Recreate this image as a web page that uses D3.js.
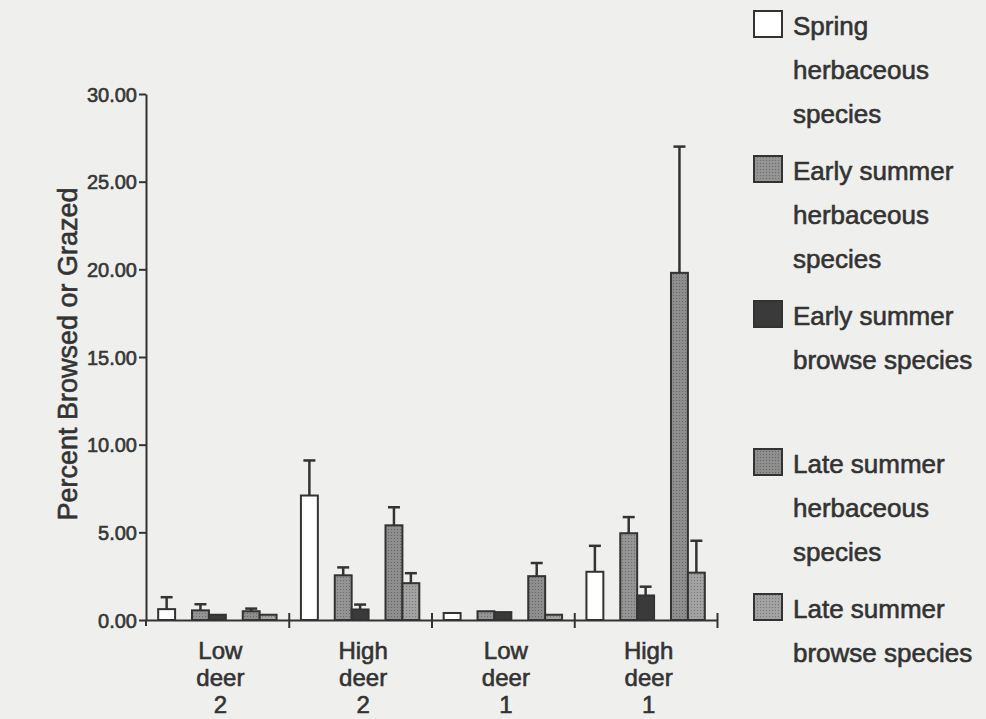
<!DOCTYPE html>
<html>
<head>
<meta charset="utf-8">
<script src="https://cdn.jsdelivr.net/npm/d3@7"></script>
<style>
  body { margin: 0; background: #efefed; }
  svg { display: block; font-family: "Liberation Sans", Arial, sans-serif; }
  text { fill: #333; stroke: #333; stroke-width: 0.6px; }
</style>
</head>
<body>
<svg width="986" height="719"></svg>
<script>
// groups along the x axis
var groups = ["Low deer 2", "High deer 2", "Low deer 1", "High deer 1"];

// series (one bar per group each)
var seriesKeys = ["springHerb", "earlyHerb", "earlyBrowse", "lateHerb", "lateBrowse"];
var legendLines = [
  ["Spring", "herbaceous", "species"],
  ["Early summer", "herbaceous", "species"],
  ["Early summer", "browse species"],
  ["Late summer", "herbaceous", "species"],
  ["Late summer", "browse species"]
];

// means
var springHerb  = [0.62, 7.10, 0.40, 2.75];
var earlyHerb   = [0.55, 2.55, 0.50, 4.95];
var earlyBrowse = [0.30, 0.60, 0.45, 1.40];
var lateHerb    = [0.50, 5.40, 2.50, 19.80];
var lateBrowse  = [0.30, 2.10, 0.30, 2.70];

// upper error bars
var springHerbErr  = [0.68, 2.00, 0, 1.48];
var earlyHerbErr   = [0.35, 0.45, 0, 0.92];
var earlyBrowseErr = [0, 0.28, 0, 0.50];
var lateHerbErr    = [0.15, 1.03, 0.75, 7.20];
var lateBrowseErr  = [0, 0.57, 0, 1.82];

var yTicks = [0, 5, 10, 15, 20, 25, 30];

var means = [springHerb, earlyHerb, earlyBrowse, lateHerb, lateBrowse];
var errs = [springHerbErr, earlyHerbErr, earlyBrowseErr, lateHerbErr, lateBrowseErr];

var svg = d3.select("svg");

// fills: white, stippled greys, dark
var defs = svg.append("defs");
function stipple(id, base, dot) {
  var p = defs.append("pattern").attr("id", id)
    .attr("patternUnits", "userSpaceOnUse").attr("width", 3).attr("height", 3);
  p.append("rect").attr("width", 3).attr("height", 3).attr("fill", base);
  p.append("rect").attr("x", 1).attr("y", 1).attr("width", 1).attr("height", 1).attr("fill", dot);
}
stipple("st1", "#949494", "#6c6c6c");
stipple("st2", "#8e8e8e", "#666");
stipple("st3", "#a2a2a2", "#777");

var fills = {
  springHerb: "#ffffff",
  earlyHerb: "url(#st1)",
  earlyBrowse: "#3a3a3a",
  lateHerb: "url(#st2)",
  lateBrowse: "url(#st3)"
};

var x0 = d3.scaleBand().domain(groups).range([146, 717]);
var edge = d3.scaleLinear().domain([0, groups.length]).range([146, 717]);
// slot layout inside a group: spring, gap, early pair, gap, late pair
var slots = ["springHerb", "g1", "earlyHerb", "earlyBrowse", "g2", "lateHerb", "lateBrowse"];
var x1 = d3.scaleBand().domain(slots).range([0, x0.bandwidth()]).paddingOuter(0.72);

var y = d3.scaleLinear().domain([0, 30]).range([620, 94]);

// y axis
var yAxis = svg.append("g")
  .attr("transform", "translate(146,0)")
  .call(d3.axisLeft(y).tickValues(yTicks).tickFormat(d3.format(".2f")).tickSize(7).tickSizeOuter(0));
yAxis.select(".domain").attr("stroke", "#333").attr("stroke-width", 2);
yAxis.selectAll(".tick line").attr("stroke", "#333").attr("stroke-width", 2);
yAxis.selectAll(".tick text").attr("x", -9).attr("dy", "0.36em")
  .style("font-size", "20px").style("fill", "#3a3a3a");
yAxis.append("line").attr("x1", 0).attr("x2", 0).attr("y1", y(0)).attr("y2", y(0) + 6)
  .attr("stroke", "#333").attr("stroke-width", 2);

// x axis with crossing ticks at group edges
var xAxis = svg.append("g")
  .attr("transform", "translate(0," + y(0) + ")")
  .call(d3.axisBottom(edge).tickValues(d3.range(1, groups.length + 1)).tickFormat("").tickSize(8).tickSizeOuter(0));
xAxis.select(".domain").attr("stroke", "#333").attr("stroke-width", 2);
xAxis.selectAll(".tick line").attr("y1", -7).attr("stroke", "#333").attr("stroke-width", 2);

// group labels
svg.append("g").selectAll("text")
  .data(groups)
  .enter().append("text")
  .attr("text-anchor", "middle")
  .style("font-size", "24px")
  .each(function(d) {
    var t = d3.select(this);
    d.split(" ").forEach(function(w, i) {
      t.append("tspan")
        .attr("x", x0(d) + x0.bandwidth() / 2 + 3)
        .attr("y", 659 + i * 27)
        .text(w);
    });
  });

// y label
svg.append("text")
  .attr("transform", "translate(77,354) rotate(-90)")
  .attr("text-anchor", "middle")
  .style("font-size", "27px")
  .text("Percent Browsed or Grazed");

// bars
var barData = [];
seriesKeys.forEach(function(k, si) {
  groups.forEach(function(g, gi) {
    barData.push({ key: k, group: g, value: means[si][gi], err: errs[si][gi] });
  });
});

var bars = svg.append("g");
bars.selectAll("rect")
  .data(barData)
  .enter().append("rect")
  .attr("x", function(d) { return x0(d.group) + x1(d.key); })
  .attr("y", function(d) { return y(d.value); })
  .attr("width", x1.bandwidth())
  .attr("height", function(d) { return y(0) - y(d.value); })
  .attr("fill", function(d) { return fills[d.key]; })
  .attr("stroke", "#333")
  .attr("stroke-width", 2);

// upper error bars
var eb = svg.append("g").attr("stroke", "#333").attr("stroke-width", 2.5);
barData.filter(function(d) { return d.err > 0; }).forEach(function(d) {
  var cx = x0(d.group) + x1(d.key) + x1.bandwidth() / 2;
  eb.append("line").attr("x1", cx).attr("x2", cx)
    .attr("y1", y(d.value)).attr("y2", y(d.value + d.err));
  eb.append("line").attr("x1", cx - 6).attr("x2", cx + 6)
    .attr("y1", y(d.value + d.err)).attr("y2", y(d.value + d.err));
});

// legend
var base = 35, lineStep = 44;
var legend = svg.append("g");
seriesKeys.forEach(function(k, i) {
  if (i > 0) base += (i === 3 ? 104 : 57);
  legend.append("rect")
    .attr("x", 754).attr("y", base - 24)
    .attr("width", 28).attr("height", 26)
    .attr("fill", fills[k]).attr("stroke", "#333").attr("stroke-width", 2);
  legendLines[i].forEach(function(line, j) {
    legend.append("text")
      .attr("x", 793).attr("y", base + j * lineStep)
      .style("font-size", "26px")
      .text(line);
  });
  base += (legendLines[i].length - 1) * lineStep;
});
</script>
</body>
</html>
